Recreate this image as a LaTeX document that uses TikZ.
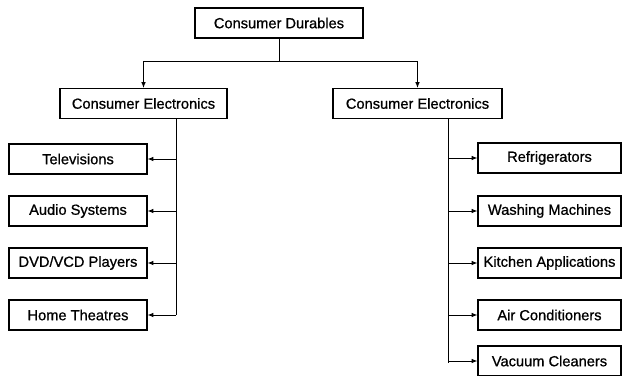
\documentclass[tikz,border=0pt]{standalone}
\usepackage{fontspec}
\setmainfont{Liberation Sans}[RawFeature={embolden=0.8}]
\usetikzlibrary{positioning, arrows.meta}

\begin{document}
\begin{tikzpicture}[x=0.03cm, y=-0.03cm, line width=0.8pt,
    every node/.style={font=\fontsize{12.5}{14}\selectfont, align=center},
    box/.style={draw, line width=1pt, minimum height=0.9cm, inner sep=0pt},
    arr/.style={-{Latex[length=5pt, width=4pt]}}]
    \useasboundingbox (0,0) rectangle (623,376);

    % kotak atas
    \node[box, minimum width=5.04cm] (top) at (279,23) {Consumer Durables};
    \node[box, minimum width=5.01cm] (ceL) at (143.5,103.5) {Consumer Electronics};
    \node[box, minimum width=5.07cm] (ceR) at (417.5,103.5) {Consumer Electronics};

    % cabang
    \coordinate (j) at (279,61);
    \draw (top) -- (j);
    \draw[arr] (j) -| (ceL);
    \draw[arr] (j) -| (ceR);

    % batang kiri dan kanan
    \coordinate (tL) at (176,315);
    \coordinate (tR) at (448,363);
    \draw (ceL.south -| tL) -- (tL);
    \draw (ceR.south -| tR) -- (tR);

    % daftar kiri
    \foreach \t/\y [count=\i] in {Televisions/159, Audio Systems/211,
        {DVD/VCD Players}/263, Home Theatres/315}{
        \node[box, minimum width=4.14cm] (l\i) at (78,\y) {\t};
        \draw[arr] (tL |- l\i) -- (l\i);
      }

    % daftar kanan
    \foreach \t/\y [count=\i] in {Refrigerators/158, Washing Machines/211,
        Kitchen Applications/263, Air Conditioners/315, Vacuum Cleaners/361}{
        \node[box, minimum width=4.29cm] (r\i) at (549.5,\y) {\t};
        \draw[arr] (tR |- r\i.west) -- (r\i);
      }
  \end{tikzpicture}
\end{document}
